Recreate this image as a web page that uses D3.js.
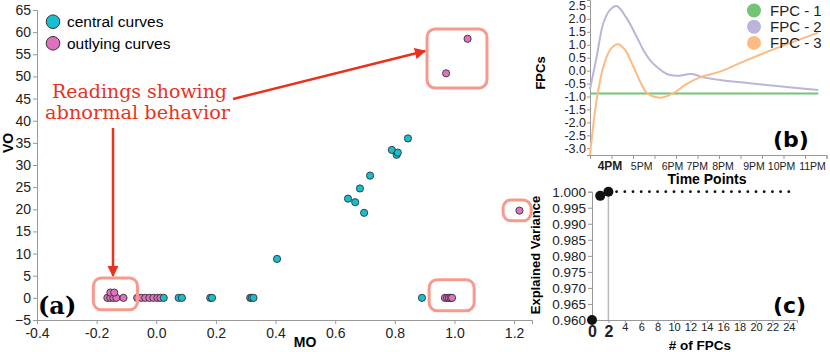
<!DOCTYPE html>
<html>
<head>
<meta charset="utf-8">
<script src="https://cdn.jsdelivr.net/npm/d3@7"></script>
<style>
body { margin: 0; background: #fff; }
svg { display: block; font-family: "Liberation Sans", Arial, sans-serif; }
.axis path, .axis line { stroke: #999; }
.axis text { fill: #222; }
</style>
</head>
<body>
<svg id="chart" width="830" height="352"></svg>
<script>
///////////////////////////////////////////////////////////////////////////////
// (a) functional outlyingness: MO vs VO

var centralMO = [0.025, 0.075, 0.086, 0.181, 0.187, 0.315, 0.320, 0.326, 0.405,
                 0.643, 0.667, 0.683, 0.697, 0.717, 0.790, 0.806, 0.810, 0.844, 0.891];
var centralVO = [0, 0, 0, 0, 0, 0, 0, 0, 8.8,
                 22.4, 21.6, 24.7, 19.2, 27.6, 33.4, 32.3, 32.8, 36.0, 0];

var outlyingMO = [-0.164, -0.154, -0.144, -0.134, -0.154, -0.141, -0.110,
                  -0.064, -0.050, -0.037, -0.023, -0.010, 0.004, 0.014,
                  0.968, 0.975, 0.981, 0.987, 0.992, 0.972, 1.044, 1.218];
var outlyingVO = [0, 0, 0, 0, 1.2, 1.2, 0,
                  0, 0, 0, 0, 0, 0, 0,
                  0, 0, 0, 0, 0, 50.7, 58.5, 19.7];

var moTicks = [-0.4, -0.2, 0.0, 0.2, 0.4, 0.6, 0.8, 1.0, 1.2];
var voTicks = [-5, 0, 5, 10, 15, 20, 25, 30, 35, 40, 45, 50, 55, 60, 65];

// highlighted groups, in data units [mo0, mo1, vo0, vo1]
var highlightBoxes = [
  [-0.211, -0.063, -2.7, 4.5],
  [0.908, 1.109, 47.4, 60.7],
  [1.163, 1.257, 17.4, 22.1],
  [0.915, 1.066, -2.9, 4.1]
];

var legendLabels = ["central curves", "outlying curves"];

///////////////////////////////////////////////////////////////////////////////
// (b) functional principal components

var hourLabels = ["4PM", "5PM", "6PM", "7PM", "8PM", "9PM", "10PM", "11PM"];
var hourLabelAt = [0.93, 2.40, 3.84, 4.99, 6.19, 7.63, 8.91, 10.35];
var timeTicks = [0, 1, 2, 3, 4, 5, 6, 7, 8, 9, 10, 11];
var fpcTicks = [2.5, 2.0, 1.5, 1.0, 0.5, 0.0, -0.5, -1.0, -1.5, -2.0, -2.5, -3.0];

var fpc1T = [0, 10.62];
var fpc1V = [-0.88, -0.88];
var fpc2T = [0, 0.31, 0.62, 0.93, 1.24, 1.71, 2.17, 2.48, 2.79, 3.10, 3.57,
             4.03, 4.73, 5.27, 6.05, 7.13, 8.68, 10.62];
var fpc2V = [-0.72, 0.54, 1.83, 2.35, 2.50, 2.02, 1.31, 0.80, 0.41, 0.15, -0.13,
             -0.20, -0.13, -0.26, -0.36, -0.46, -0.59, -0.75];
var fpc3T = [0, 0.31, 0.62, 0.93, 1.16, 1.32, 1.63, 2.02, 2.33, 2.64, 3.10,
             3.41, 3.88, 4.50, 5.12, 6.05, 7.13, 8.68, 10.62];
var fpc3V = [-3.26, -1.13, 0.15, 0.80, 0.99, 1.02, 0.80, 0.15, -0.42, -0.85, -1.03,
             -1.03, -0.87, -0.51, -0.26, -0.04, 0.35, 0.87, 1.47];

var fpcNames = ["FPC - 1", "FPC - 2", "FPC - 3"];
var fpcColors = ["#74c476", "#bcb4db", "#fdbb84"];

///////////////////////////////////////////////////////////////////////////////
// (c) cumulative explained variance

var nFpcs = [0, 1, 2, 3, 4, 5, 6, 7, 8, 9, 10, 11, 12, 13, 14, 15, 16, 17, 18,
             19, 20, 21, 22, 23, 24];
var explained = [0.960, 0.9987, 1, 1, 1, 1, 1, 1, 1, 1, 1, 1, 1, 1, 1, 1, 1, 1, 1,
                 1, 1, 1, 1, 1, 1];
var varTicks = [1.000, 0.995, 0.990, 0.985, 0.980, 0.975, 0.970, 0.965, 0.960];
var nTicks = [0, 2, 4, 6, 8, 10, 12, 14, 16, 18, 20, 22, 24];

///////////////////////////////////////////////////////////////////////////////

var svg = d3.select("#chart");
var red = "#e8321e";
var salmon = "#f79a8e";

svg.append("defs").append("marker")
  .attr("id", "arrow")
  .attr("viewBox", "0 0 10 10")
  .attr("refX", 9).attr("refY", 5)
  .attr("markerWidth", 4.5).attr("markerHeight", 4.5)
  .attr("orient", "auto")
  .append("path")
  .attr("d", "M0,0 L10,5 L0,10 z")
  .attr("fill", red);

var styleAxis = function (g, size) {
  g.attr("class", "axis");
  g.selectAll("text").style("font-size", size + "px")
    .style("font-family", "'Liberation Sans', Arial, sans-serif");
};

// ---- (a)
var xA = d3.scaleLinear().domain([-0.4, 1.26]).range([37, 532]);
var yA = d3.scaleLinear().domain([-5, 65]).range([320, 10]);

svg.append("g")
  .attr("transform", "translate(0," + yA(-5) + ")")
  .call(d3.axisBottom(xA).tickValues(moTicks).tickSize(4).tickPadding(4)
        .tickFormat(function (d) { return d.toFixed(1); }))
  .call(styleAxis, 14);

svg.append("g")
  .attr("transform", "translate(" + xA(-0.4) + ",0)")
  .call(d3.axisLeft(yA).tickValues(voTicks).tickSize(4).tickPadding(2))
  .call(styleAxis, 14);

svg.append("text")
  .attr("x", 305).attr("y", 347)
  .attr("text-anchor", "middle")
  .style("font-size", "14px").style("font-weight", "bold")
  .text("MO");

svg.append("text")
  .attr("transform", "translate(13,143) rotate(-90)")
  .attr("text-anchor", "middle")
  .style("font-size", "14px").style("font-weight", "bold")
  .text("VO");

svg.append("g").selectAll("circle")
  .data(outlyingMO)
  .enter().append("circle")
  .attr("cx", function (d) { return xA(d); })
  .attr("cy", function (d, i) { return yA(outlyingVO[i]); })
  .attr("r", 3.6)
  .attr("fill", "#e070c0")
  .attr("stroke", "#333")
  .attr("stroke-width", 0.9);

svg.append("g").selectAll("circle")
  .data(centralMO)
  .enter().append("circle")
  .attr("cx", function (d) { return xA(d); })
  .attr("cy", function (d, i) { return yA(centralVO[i]); })
  .attr("r", 3.6)
  .attr("fill", "#17becf")
  .attr("stroke", "#333")
  .attr("stroke-width", 0.9);

svg.append("g").selectAll("rect")
  .data(highlightBoxes)
  .enter().append("rect")
  .attr("x", function (b) { return xA(b[0]); })
  .attr("y", function (b) { return yA(b[3]); })
  .attr("width", function (b) { return xA(b[1]) - xA(b[0]); })
  .attr("height", function (b) { return yA(b[2]) - yA(b[3]); })
  .attr("rx", 8)
  .attr("fill", "none")
  .attr("stroke", salmon)
  .attr("stroke-width", 3);

// legend
var legA = svg.append("g").selectAll("g")
  .data(legendLabels)
  .enter().append("g")
  .attr("transform", function (d, i) { return "translate(53," + (21.7 + i * 21.6) + ")"; });
legA.append("circle")
  .attr("r", 6.8)
  .attr("fill", function (d, i) { return i ? "#e070c0" : "#17becf"; })
  .attr("stroke", "#333")
  .attr("stroke-width", 1);
legA.append("text")
  .attr("x", 14).attr("dy", "0.35em")
  .style("font-size", "15.5px")
  .text(function (d) { return d; });

// annotation
var note = svg.append("g")
  .attr("fill", red)
  .style("font-family", "'DejaVu Serif', serif")
  .style("font-size", "18px")
  .attr("text-anchor", "middle");
note.append("text").attr("x", 139.5).attr("y", 98)
  .attr("textLength", 175).attr("lengthAdjust", "spacingAndGlyphs")
  .text("Readings showing");
note.append("text").attr("x", 137.5).attr("y", 119)
  .attr("textLength", 185).attr("lengthAdjust", "spacingAndGlyphs")
  .text("abnormal behavior");

var box0 = highlightBoxes[0], box1 = highlightBoxes[1];
svg.append("line")
  .attr("x1", 233).attr("y1", 99)
  .attr("x2", xA(box1[0]) - 2).attr("y2", 51)
  .attr("stroke", red).attr("stroke-width", 2.5)
  .attr("marker-end", "url(#arrow)");
svg.append("line")
  .attr("x1", 113).attr("y1", 128)
  .attr("x2", 113).attr("y2", yA(box0[3]) - 2)
  .attr("stroke", red).attr("stroke-width", 2.5)
  .attr("marker-end", "url(#arrow)");

svg.append("text")
  .attr("x", 38).attr("y", 314)
  .style("font-family", "'DejaVu Serif', serif")
  .style("font-size", "24px").style("font-weight", "bold")
  .text("(a)");

// ---- (b)
var xB = d3.scaleLinear().domain([0, 11]).range([590, 826.5]);
var yB = d3.scaleLinear().domain([-3.26, 2.73]).range([155, 0]);

var gxB = svg.append("g")
  .attr("transform", "translate(0," + yB.range()[0] + ")")
  .call(d3.axisBottom(xB).tickValues(timeTicks).tickSize(4).tickFormat(""));
gxB.attr("class", "axis");
svg.append("g").selectAll("text")
  .data(hourLabels)
  .enter().append("text")
  .attr("x", function (d, i) { return xB(hourLabelAt[i]); })
  .attr("y", 170)
  .attr("text-anchor", "middle")
  .style("font-size", function (d, i) { return i ? "10.5px" : "12px"; })
  .style("font-weight", function (d, i) { return i ? "normal" : "bold"; })
  .attr("fill", "#222")
  .text(function (d) { return d; });

svg.append("g")
  .attr("transform", "translate(" + xB(0) + ",0)")
  .call(d3.axisLeft(yB).tickValues(fpcTicks).tickSize(3).tickPadding(1)
        .tickFormat(function (d) { return d.toFixed(1); }))
  .call(styleAxis, 12.5);

var lineB = d3.line()
  .x(function (d) { return xB(d[0]); })
  .y(function (d) { return yB(d[1]); })
  .curve(d3.curveCatmullRom.alpha(0.5));

var fpcSeries = [d3.zip(fpc1T, fpc1V), d3.zip(fpc2T, fpc2V), d3.zip(fpc3T, fpc3V)];
svg.append("g").selectAll("path")
  .data(fpcSeries)
  .enter().append("path")
  .attr("d", lineB)
  .attr("fill", "none")
  .attr("stroke", function (d, i) { return fpcColors[i]; })
  .attr("stroke-width", 2);

var legB = svg.append("g").selectAll("g")
  .data(fpcNames)
  .enter().append("g")
  .attr("transform", function (d, i) { return "translate(754," + (10.5 + i * 16.2) + ")"; });
legB.append("circle")
  .attr("r", 7)
  .attr("fill", function (d, i) { return fpcColors[i]; });
legB.append("text")
  .attr("x", 16).attr("dy", "0.36em")
  .style("font-size", "15px")
  .attr("fill", "#222")
  .text(function (d) { return d; });

svg.append("text")
  .attr("x", 707).attr("y", 184)
  .attr("text-anchor", "middle")
  .style("font-size", "14px").style("font-weight", "bold")
  .text("Time Points");

svg.append("text")
  .attr("transform", "translate(545,73) rotate(-90)")
  .attr("text-anchor", "middle")
  .style("font-size", "13px").style("font-weight", "bold")
  .text("FPCs");

svg.append("text")
  .attr("x", 773).attr("y", 147)
  .style("font-family", "'DejaVu Sans', sans-serif")
  .style("font-size", "22px").style("font-weight", "bold")
  .text("(b)");

// ---- (c)
var xC = d3.scaleLinear().domain([0, 25]).range([592, 797]);
var yC = d3.scaleLinear().domain([0.96, 1.0]).range([320, 191.7]);

var gxC = svg.append("g")
  .attr("transform", "translate(0," + yC(0.96) + ")")
  .call(d3.axisBottom(xC).tickValues(nTicks).tickSize(3).tickPadding(2));
styleAxis(gxC, 11);
gxC.selectAll("text")
  .style("font-size", function (d) { return d <= 2 ? "16px" : "11px"; })
  .style("font-weight", function (d) { return d <= 2 ? "bold" : "normal"; })
  .attr("fill", function (d) { return d <= 2 ? "#111" : "#444"; })
  .attr("dy", function (d) { return d <= 2 ? "0.72em" : "0.55em"; });

svg.append("g")
  .attr("transform", "translate(" + xC(0) + ",0)")
  .call(d3.axisLeft(yC).tickValues(varTicks).tickSize(4).tickPadding(2)
        .tickFormat(d3.format(".3f")))
  .call(styleAxis, 13.5);

svg.append("line")
  .attr("x1", xC(2)).attr("x2", xC(2))
  .attr("y1", yC(explained[2])).attr("y2", yC(0.96))
  .attr("stroke", "#bbb").attr("stroke-width", 1.5);

svg.append("g").selectAll("circle")
  .data(nFpcs)
  .enter().append("circle")
  .attr("cx", function (d) { return xC(d); })
  .attr("cy", function (d, i) { return yC(explained[i]); })
  .attr("r", function (d) { return d <= 2 ? 5 : 1.4; })
  .attr("fill", "#111");

svg.append("text")
  .attr("x", 700).attr("y", 350)
  .attr("text-anchor", "middle")
  .style("font-size", "13.5px").style("font-weight", "bold")
  .text("# of FPCs");

svg.append("text")
  .attr("transform", "translate(540,255) rotate(-90)")
  .attr("text-anchor", "middle")
  .style("font-size", "13px").style("font-weight", "bold")
  .text("Explained Variance");

svg.append("text")
  .attr("x", 773).attr("y", 313)
  .style("font-family", "'DejaVu Sans', sans-serif")
  .style("font-size", "22px").style("font-weight", "bold")
  .text("(c)");
</script>
</body>
</html>
